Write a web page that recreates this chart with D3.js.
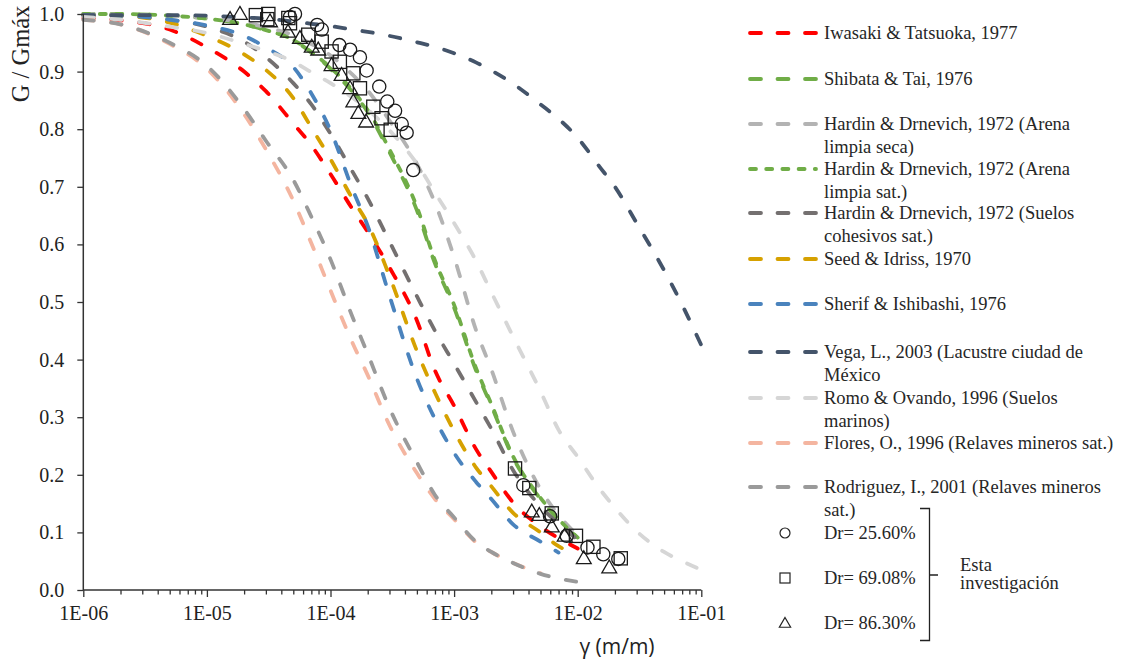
<!DOCTYPE html>
<html><head><meta charset="utf-8">
<script src="https://cdn.jsdelivr.net/npm/d3@7"></script>
<style>
html,body{margin:0;padding:0;background:#fff;}
svg{display:block;}
</style></head>
<body>
<svg id="chart" width="1121" height="661"></svg>
<script>
// ---- DATA ----
const gammaGrid = [1e-6,2e-6,5e-6,1e-5,2e-5,3e-5,5e-5,7e-5,1e-4,1.5e-4,2e-4,3e-4,5e-4,7e-4,1e-3,1.5e-3,2e-3,3e-3,5e-3,7e-3,1e-2];
const gammaLong = [1e-6,2e-6,5e-6,1e-5,2e-5,3e-5,5e-5,7e-5,1e-4,1.5e-4,2e-4,3e-4,5e-4,7e-4,1e-3,1.5e-3,2e-3,3e-3,5e-3,7e-3,1e-2,1.5e-2,2e-2,3e-2,5e-2,7e-2,1e-1];

const iwasaki   = [0.993,0.989,0.973,0.942,0.900,0.866,0.810,0.772,0.722,0.662,0.622,0.560,0.468,0.381,0.320,0.245,0.205,0.152,0.110,0.090,0.072];
const shibata   = [1.000,1.000,0.997,0.992,0.982,0.972,0.955,0.933,0.905,0.865,0.830,0.760,0.659,0.567,0.490,0.382,0.320,0.230,0.158,0.122,0.090];
const hardinSeca= [1.000,0.999,0.997,0.993,0.985,0.977,0.963,0.948,0.928,0.895,0.867,0.815,0.740,0.672,0.578,0.452,0.383,0.275,0.175,0.130,0.095];
const hardinSat = [1.000,1.000,0.997,0.992,0.982,0.972,0.955,0.934,0.907,0.868,0.833,0.765,0.665,0.572,0.495,0.386,0.323,0.232,0.160,0.123,0.091];
const hardinCoh = [0.998,0.997,0.990,0.978,0.952,0.925,0.880,0.843,0.792,0.727,0.680,0.605,0.510,0.450,0.393,0.327,0.280,0.208,0.145,0.115,0.087];
const seedIdriss= [0.998,0.997,0.985,0.962,0.930,0.903,0.854,0.803,0.748,0.680,0.636,0.545,0.415,0.343,0.276,0.213,0.180,0.134,0.100,0.076,0.061];
const sherif    = [0.998,0.997,0.990,0.980,0.962,0.942,0.908,0.862,0.798,0.697,0.632,0.511,0.367,0.297,0.238,0.188,0.158,0.114,0.084,0.065];
const vega      = [0.998,0.998,0.998,0.997,0.994,0.992,0.987,0.983,0.979,0.973,0.969,0.962,0.951,0.943,0.932,0.916,0.902,0.879,0.843,0.818,0.785,0.735,0.700,0.637,0.555,0.495,0.425];
const romo      = [0.995,0.990,0.978,0.967,0.948,0.936,0.917,0.899,0.880,0.855,0.834,0.798,0.740,0.690,0.637,0.572,0.517,0.440,0.345,0.278,0.231,0.176,0.143,0.102,0.066,0.050,0.035];
const flores    = [0.990,0.982,0.948,0.905,0.826,0.765,0.676,0.602,0.520,0.430,0.373,0.286,0.203,0.158,0.123,0.083,0.066,0.047,0.029];
const rodriguez = [0.990,0.982,0.950,0.910,0.835,0.780,0.712,0.648,0.574,0.475,0.410,0.316,0.222,0.165,0.126,0.084,0.066,0.047,0.028,0.020,0.014];

const dr25Gamma = [5.16e-5,4.7e-5,7.8e-5,8.5e-5,1.18e-4,1.44e-4,1.73e-4,1.96e-4,2.48e-4,2.88e-4,3.33e-4,3.77e-4,4.13e-4,4.67e-4,3.63e-3,5.97e-3,8.15e-3,1.2e-2,1.61e-2,2.13e-2];
const dr25Val   = [1.000,0.995,0.981,0.973,0.946,0.938,0.925,0.902,0.874,0.848,0.832,0.809,0.794,0.729,0.182,0.128,0.094,0.074,0.062,0.054];
const dr69Gamma = [3.14e-5,2.49e-5,3.08e-5,4.56e-5,4.7e-5,6.61e-5,8.49e-5,1.02e-4,1.19e-4,1.53e-4,1.73e-4,2.22e-4,2.59e-4,3.07e-4,3.11e-3,4.06e-3,6.17e-3,9.68e-3,1.34e-2,2.23e-2];
const dr69Val   = [1.000,0.998,0.991,0.993,0.984,0.964,0.952,0.935,0.917,0.897,0.871,0.839,0.819,0.799,0.211,0.177,0.133,0.094,0.075,0.055];
const dr86Gamma = [1.54e-5,1.85e-5,3.24e-5,4.53e-5,5.66e-5,7.05e-5,7.96e-5,1.02e-4,1.23e-4,1.44e-4,1.53e-4,1.68e-4,1.94e-4,4.25e-3,4.89e-3,6.17e-3,7.85e-3,1.12e-2,1.8e-2];
const dr86Val   = [0.991,1.000,0.987,0.969,0.958,0.943,0.938,0.911,0.894,0.871,0.848,0.828,0.813,0.136,0.130,0.110,0.094,0.055,0.039];

const xTickValues = [1e-6,1e-5,1e-4,1e-3,1e-2,1e-1];
const yTickValues = [0,0.1,0.2,0.3,0.4,0.5,0.6,0.7,0.8,0.9,1.0];

// ---- SERIES DEFINITIONS (styling separate from data) ----
const series = [
  {name:["Iwasaki & Tatsuoka, 1977"], g:gammaGrid, v:iwasaki, color:"#ff0000", dash:"10.5,17.5", ly:33},
  {name:["Shibata & Tai, 1976"], g:gammaGrid, v:shibata, color:"#70ad47", dash:"10.5,17.5", ly:79},
  {name:["Hardin & Drnevich, 1972 (Arena","limpia seca)"], g:gammaGrid, v:hardinSeca, color:"#b3b3b3", dash:"10.5,17.5", ly:124},
  {name:["Hardin & Drnevich, 1972 (Arena","limpia sat.)"], g:gammaGrid, v:hardinSat, color:"#70ad47", dash:"6,10.5", ly:169},
  {name:["Hardin & Drnevich, 1972 (Suelos","cohesivos sat.)"], g:gammaGrid, v:hardinCoh, color:"#747070", dash:"10.5,17.5", ly:213},
  {name:["Seed & Idriss, 1970"], g:gammaGrid, v:seedIdriss, color:"#d6a100", dash:"10.5,17.5", ly:259},
  {name:["Sherif & Ishibashi, 1976"], g:gammaGrid, v:sherif, color:"#4a83bd", dash:"10.5,17.5", ly:304},
  {name:["Vega, L., 2003 (Lacustre ciudad de","México"], g:gammaLong, v:vega, color:"#44546a", dash:"10.5,17.5", ly:352},
  {name:["Romo & Ovando, 1996 (Suelos","marinos)"], g:gammaLong, v:romo, color:"#d6d6d6", dash:"10.5,17.5", ly:398},
  {name:["Flores, O., 1996 (Relaves mineros sat.)"], g:gammaGrid, v:flores, color:"#f4b5a0", dash:"10.5,17.5", ly:443},
  {name:["Rodriguez, I., 2001 (Relaves mineros","sat.)"], g:gammaGrid, v:rodriguez, color:"#9a9a9a", dash:"10.5,17.5", ly:487}
];

const svg = d3.select("#chart");
const x = d3.scaleLog().domain([1e-6,1e-1]).range([83.3,701.3]);
const y = d3.scaleLinear().domain([0,1]).range([590,14]);

const serif = "'Liberation Serif','Times New Roman',serif";
const axisColor = "#333333";

// curves
const line = d3.line().x(d=>x(d[0])).y(d=>y(d[1])).curve(d3.curveMonotoneX);
const gCurves = svg.append("g");
series.forEach(s=>{
  const pts = s.v.map((val,i)=>[s.g[i],val]);
  gCurves.append("path").attr("d",line(pts))
    .attr("fill","none").attr("stroke",s.color).attr("stroke-width",3.8)
    .attr("stroke-dasharray",s.dash).attr("stroke-linecap","round");
});

// axes
const yAxis = d3.axisLeft(y).tickValues(yTickValues).tickFormat(d3.format(".1f")).tickSize(6).tickPadding(13);
const gy = svg.append("g").attr("transform","translate(83.3,0)").call(yAxis);
gy.select(".domain").attr("stroke",axisColor).attr("stroke-width",1.5).attr("d","M0,14V590");
gy.selectAll(".tick line").attr("stroke",axisColor).attr("stroke-width",1.3);
gy.selectAll("text").attr("font-family",serif).attr("font-size",20).attr("fill","#222");

const minorVals = [];
for(let e=-6;e<-1;e++){ for(let m=2;m<=9;m++) minorVals.push(m*Math.pow(10,e)); }
const xMinor = d3.axisBottom(x).tickValues(minorVals).tickFormat("").tickSize(4.5);
const gxm = svg.append("g").attr("transform","translate(0,590)").call(xMinor);
gxm.select(".domain").remove();
gxm.selectAll(".tick line").attr("stroke",axisColor).attr("stroke-width",1.3);

const fmtE = d=>{ const e=Math.round(Math.log10(d)); return "1E" + (e<0?"-":"+") + String(Math.abs(e)).padStart(2,"0"); };
const xAxis = d3.axisBottom(x).tickValues(xTickValues).tickFormat(fmtE).tickSize(7).tickPadding(9);
const gx = svg.append("g").attr("transform","translate(0,590)").call(xAxis);
gx.select(".domain").attr("stroke",axisColor).attr("stroke-width",1.5).attr("d","M83.3,0H701.3");
gx.selectAll(".tick line").attr("stroke",axisColor).attr("stroke-width",1.3);
gx.selectAll("text").attr("font-family",serif).attr("font-size",20).attr("fill","#222");

// axis titles
svg.append("text").attr("transform","translate(29,54) rotate(-90)").attr("text-anchor","middle")
  .attr("font-family",serif).attr("font-size",24.5).attr("fill","#222").text("G / Gmáx");
svg.append("text").attr("x",617).attr("y",654).attr("text-anchor","middle")
  .attr("font-family","'Open Sans','Noto Sans',sans-serif").attr("font-size",21).attr("fill","#222").text("γ (m/m)");

// markers
const markerStroke = "#1a1a1a";
const gm = svg.append("g");
dr25Gamma.forEach((g,i)=>{
  gm.append("circle").attr("cx",x(g)).attr("cy",y(dr25Val[i])).attr("r",6.6)
    .attr("fill","none").attr("stroke",markerStroke).attr("stroke-width",1.3);
});
dr69Gamma.forEach((g,i)=>{
  gm.append("rect").attr("x",x(g)-6.6).attr("y",y(dr69Val[i])-6.6).attr("width",13.2).attr("height",13.2)
    .attr("fill","none").attr("stroke",markerStroke).attr("stroke-width",1.3);
});
const tri = d3.symbol().type(d3.symbolTriangle).size(95);
dr86Gamma.forEach((g,i)=>{
  gm.append("path").attr("d",tri()).attr("transform",`translate(${x(g)},${y(dr86Val[i])+1})`)
    .attr("fill","none").attr("stroke",markerStroke).attr("stroke-width",1.3);
});

// legend
const gl = svg.append("g");
series.forEach(s=>{
  gl.append("line").attr("x1",750).attr("x2",816).attr("y1",s.ly).attr("y2",s.ly)
    .attr("stroke",s.color).attr("stroke-width",3.8).attr("stroke-linecap","round")
    .attr("stroke-dasharray", s.dash==="6,10.5" ? "6,10.2" : "11,16.5");
  s.name.forEach((t,k)=>{
    gl.append("text").attr("x",824).attr("y",s.ly+6+k*23).attr("font-family",serif)
      .attr("font-size",18.5).attr("fill","#262626").text(t);
  });
});
const mk = [
  {t:"Dr= 25.60%", y:533, shape:"circle"},
  {t:"Dr= 69.08%", y:578, shape:"square"},
  {t:"Dr= 86.30%", y:623, shape:"triangle"}
];
mk.forEach(m=>{
  if(m.shape==="circle") gl.append("circle").attr("cx",785).attr("cy",m.y).attr("r",5).attr("fill","none").attr("stroke","#222").attr("stroke-width",1.2);
  if(m.shape==="square") gl.append("rect").attr("x",780).attr("y",m.y-5).attr("width",10).attr("height",10).attr("fill","none").attr("stroke","#222").attr("stroke-width",1.2);
  if(m.shape==="triangle") gl.append("path").attr("d",d3.symbol().type(d3.symbolTriangle).size(55)()).attr("transform",`translate(785,${m.y+1})`).attr("fill","none").attr("stroke","#222").attr("stroke-width",1.2);
  gl.append("text").attr("x",824).attr("y",m.y+6).attr("font-family",serif).attr("font-size",18.5).attr("fill","#262626").text(m.t);
});
// bracket
gl.append("path").attr("d","M920,508.5H929.5V640.5H920M929.5,575H938").attr("fill","none").attr("stroke","#222").attr("stroke-width",1.3);
gl.append("text").attr("x",960).attr("y",571).attr("font-family",serif).attr("font-size",18.5).attr("fill","#262626").text("Esta");
gl.append("text").attr("x",960).attr("y",589).attr("font-family",serif).attr("font-size",18.5).attr("fill","#262626").text("investigación");
</script>
</body></html>
